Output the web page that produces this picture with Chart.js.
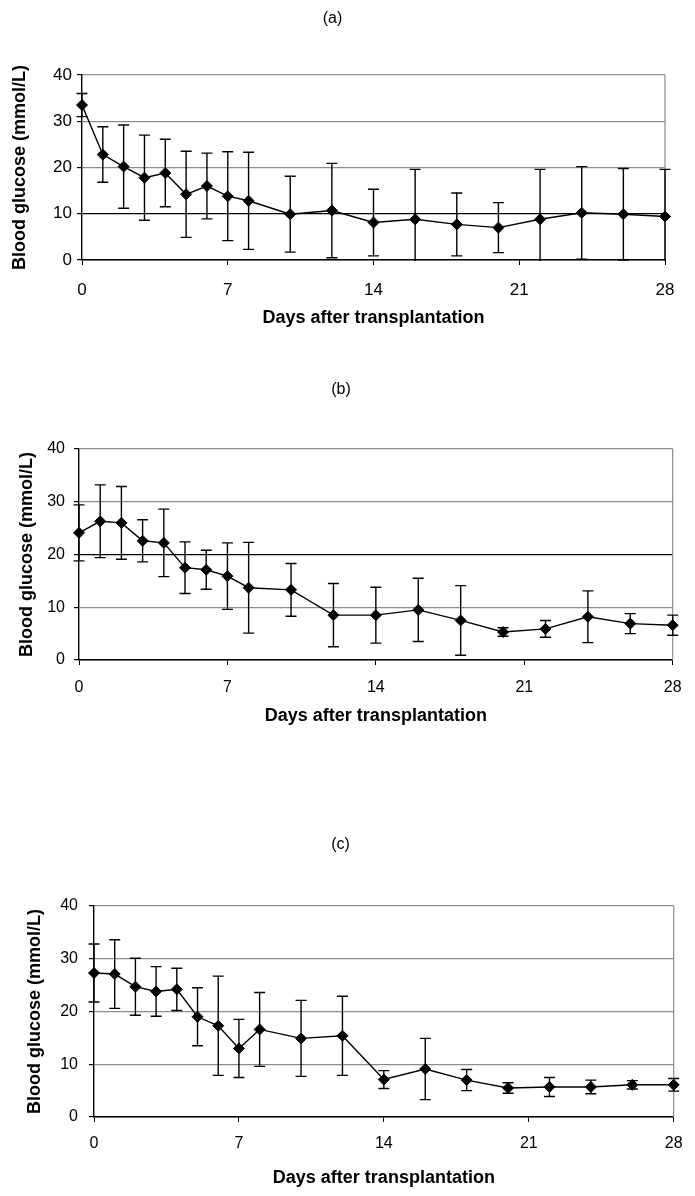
<!DOCTYPE html>
<html>
<head>
<meta charset="utf-8">
<script src="https://cdn.jsdelivr.net/npm/chart.js@4/dist/chart.umd.min.js"></script>
<style>
  html, body { margin: 0; padding: 0; background: #fff; }
  #page { position: relative; width: 695px; height: 1196px; }
  canvas { position: absolute; left: 0; }
</style>
</head>
<body>
<div id="page">
  <canvas id="chartA" width="695" height="340"></canvas>
  <canvas id="chartB" width="695" height="390"></canvas>
  <canvas id="chartC" width="695" height="406"></canvas>
</div>
<script>
// days after transplantation (same for all three panels)
const days = [0, 1, 2, 3, 4, 5, 6, 7, 8, 10, 12, 14, 16, 18, 20, 22, 24, 26, 28];
const xTickValues = [0, 7, 14, 21, 28];
const yTickValues = [0, 10, 20, 30, 40];

// (a) mean blood glucose and error (mmol/L)
const meanA = [33.5, 22.8, 20.2, 17.8, 18.8, 14.2, 16.0, 13.8, 12.8, 9.9, 10.7, 8.1, 8.8, 7.7, 7.0, 8.8, 10.2, 9.9, 9.4];
const errA  = [2.5, 6.0, 9.0, 9.2, 7.3, 9.3, 7.1, 9.6, 10.5, 8.2, 10.2, 7.2, 10.8, 6.8, 5.4, 10.8, 10.0, 9.9, 10.2];

// (b)
const meanB = [24.1, 26.3, 26.0, 22.6, 22.2, 17.5, 17.1, 15.9, 13.7, 13.3, 8.5, 8.5, 9.5, 7.5, 5.3, 5.9, 8.2, 6.9, 6.6];
const errB  = [5.3, 6.9, 6.9, 4.0, 6.4, 4.9, 3.7, 6.3, 8.6, 5.0, 6.0, 5.3, 6.0, 6.6, 0.8, 1.6, 4.9, 1.9, 1.9];

// (c)
const meanC = [27.3, 27.1, 24.7, 23.8, 24.2, 19.0, 17.3, 13.0, 16.6, 14.9, 15.4, 7.1, 9.1, 7.0, 5.5, 5.7, 5.7, 6.1, 6.1];
const errC  = [5.5, 6.5, 5.4, 4.7, 4.0, 5.5, 9.4, 5.5, 7.0, 7.2, 7.5, 1.7, 5.8, 2.0, 1.0, 1.8, 1.3, 0.8, 1.2];

const FONT = "'Liberation Sans', Arial, sans-serif";
const TITLE_SIZE = 16;
const AXIS_TITLE_SIZE = 18;
const TICK_LEN = 5;

// draws the +/- error bars with caps, clipped to the plot area vertically only
const errorBars = {
  id: 'errorBars',
  beforeDatasetsDraw(chart, args, opts) {
    const { ctx, chartArea, scales: { x, y } } = chart;
    const err = opts.err || [];
    ctx.save();
    ctx.beginPath();
    ctx.rect(0, chartArea.top - 1, chart.width, chartArea.bottom - chartArea.top + 2);
    ctx.clip();
    ctx.strokeStyle = '#000';
    ctx.lineWidth = 1.4;
    chart.data.datasets[0].data.forEach((p, i) => {
      const px = x.getPixelForValue(p.x);
      const hi = y.getPixelForValue(p.y + err[i]);
      const lo = y.getPixelForValue(p.y - err[i]);
      ctx.beginPath();
      ctx.moveTo(px, hi); ctx.lineTo(px, lo);
      ctx.moveTo(px - 5.5, hi); ctx.lineTo(px + 5.5, hi);
      ctx.moveTo(px - 5.5, lo); ctx.lineTo(px + 5.5, lo);
      ctx.stroke();
    });
    ctx.restore();
  }
};

// grey right edge of the plot area
const plotFrame = {
  id: 'plotFrame',
  beforeDatasetsDraw(chart) {
    const { ctx, chartArea } = chart;
    ctx.save();
    ctx.strokeStyle = '#8c8c8c';
    ctx.lineWidth = 1.2;
    ctx.beginPath();
    ctx.moveTo(chartArea.right, chartArea.top);
    ctx.lineTo(chartArea.right, chartArea.bottom);
    ctx.stroke();
    ctx.restore();
  }
};

function makePanel(id, label, means, errs, p) {
  const canvas = document.getElementById(id);
  canvas.style.top = p.top + 'px';
  const H = p.height;
  const titleLH = TITLE_SIZE * 1.2;
  const tickLH = p.tickSize * 1.2;
  const axisLH = AXIS_TITLE_SIZE * 1.2;
  const titlePadTop = p.titleY - p.top - titleLH / 2;
  const titlePadBottom = p.areaTop - p.top - titleLH - titlePadTop;
  const xHeight = p.top + H - p.areaBottom;

  return new Chart(canvas.getContext('2d'), {
    type: 'line',
    data: {
      datasets: [{
        data: days.map((d, i) => ({ x: d, y: means[i] })),
        borderColor: '#000',
        borderWidth: 1.4,
        backgroundColor: '#000',
        pointStyle: 'rectRot',
        pointRadius: 5.5,
        pointBorderWidth: 1,
        pointBackgroundColor: '#000',
        pointBorderColor: '#000',
        tension: 0,
        clip: false
      }]
    },
    options: {
      responsive: false,
      animation: false,
      layout: { padding: { left: 0, top: 0, bottom: 0, right: 695 - p.areaRight } },
      plugins: {
        legend: { display: false },
        tooltip: { enabled: false },
        title: {
          display: true,
          text: label,
          color: '#000',
          font: { family: FONT, size: TITLE_SIZE, weight: 'normal' },
          padding: { top: titlePadTop, bottom: titlePadBottom }
        },
        errorBars: { err: errs }
      },
      scales: {
        x: {
          type: 'linear',
          min: 0,
          max: 28,
          afterBuildTicks: (scale) => { scale.ticks = xTickValues.map(v => ({ value: v })); },
          afterFit: (scale) => { scale.height = xHeight; },
          grid: { drawOnChartArea: false, drawTicks: true, tickLength: TICK_LEN, tickColor: '#000' },
          border: { display: true, color: '#000', width: 1.4 },
          ticks: {
            color: '#000',
            font: { family: FONT, size: p.tickSize },
            padding: p.xLabelY - p.areaBottom - TICK_LEN - tickLH / 2,
            maxRotation: 0
          },
          title: {
            display: true,
            text: 'Days after transplantation',
            color: '#000',
            font: { family: FONT, size: AXIS_TITLE_SIZE, weight: 'bold' },
            padding: { top: 0, bottom: p.top + H - p.xTitleY - axisLH / 2 }
          }
        },
        y: {
          min: 0,
          max: 40,
          afterBuildTicks: (scale) => { scale.ticks = yTickValues.map(v => ({ value: v })); },
          afterFit: (scale) => { scale.width = p.areaLeft; },
          grid: {
            color: (c) => (c.tick && c.tick.value === p.darkLine ? '#000' : '#8c8c8c'),
            lineWidth: 1.2,
            drawTicks: true,
            tickLength: TICK_LEN,
            tickColor: '#000'
          },
          border: { display: true, color: '#000', width: 1.4 },
          ticks: {
            color: '#000',
            font: { family: FONT, size: p.tickSize },
            padding: p.yTickGap - TICK_LEN
          },
          title: {
            display: true,
            text: 'Blood glucose (mmol/L)',
            color: '#000',
            font: { family: FONT, size: AXIS_TITLE_SIZE, weight: 'bold' },
            padding: { top: p.yTitleX - axisLH / 2, bottom: 0 }
          }
        }
      }
    },
    plugins: [plotFrame, errorBars]
  });
}

makePanel('chartA', '(a)', meanA, errA, {
  top: 0, height: 340, titleY: 19, tickSize: 17, darkLine: 10,
  areaTop: 75, areaBottom: 260, areaLeft: 82, areaRight: 665,
  yTitleX: 20, yTickGap: 10, xLabelY: 290, xTitleY: 318
});

makePanel('chartB', '(b)', meanB, errB, {
  top: 350, height: 390, titleY: 390, tickSize: 16, darkLine: 20,
  areaTop: 449, areaBottom: 660, areaLeft: 79, areaRight: 682,
  yTitleX: 27, yTickGap: 14, xLabelY: 688, xTitleY: 716
});

makePanel('chartC', '(c)', meanC, errC, {
  top: 790, height: 406, titleY: 845, tickSize: 16, darkLine: null,
  areaTop: 906, areaBottom: 1117, areaLeft: 94, areaRight: 681,
  yTitleX: 35, yTickGap: 16, xLabelY: 1144, xTitleY: 1178
});
</script>
</body>
</html>
